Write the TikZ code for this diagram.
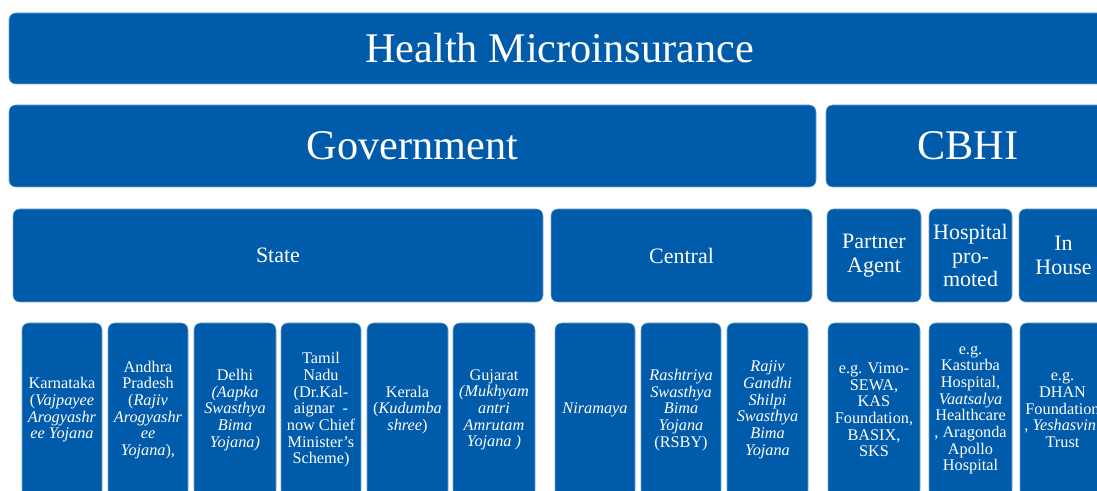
\documentclass[tikz,border=0pt]{standalone}
\usepackage{fontspec}
\setmainfont{Liberation Serif}
\usetikzlibrary{calc}

\definecolor{tileblue}{RGB}{0,91,170}

\begin{document}
\begin{tikzpicture}[x=0.75pt, y=-0.75pt,
    tile/.style={draw=tileblue!55!white, line width=0.4pt, fill=tileblue, rounded corners=5pt},
    label/.style={inner sep=0pt, text=white, align=center},
    titletext/.style={label, font=\fontsize{31.7}{36}\selectfont},
    grouptext/.style={label, font=\fontsize{16.5}{17.6}\selectfont},
    schemetext/.style={label, font=\fontsize{12.2}{12.5}\selectfont}]

    % #1 = estilo del texto, #2 = nombre, #3/#4 = esquina superior izquierda, #5/#6 = esquina inferior derecha, #7 = texto
    \newcommand{\tile}[7]{%
        \path[tile] (#3,#4) rectangle (#5,#6);
        \node[#1] (#2) at ($(#3,#4)!0.5!(#5,#6)$) {#7};}

    \useasboundingbox (0,0) rectangle (1097,491);
    \clip (0,0) rectangle (1097,491);

    % nivel 1
    \tile{titletext}{health}{9}{13}{1110}{84}{Health Microinsurance}

    % nivel 2
    \tile{titletext}{gov}{9}{105}{816}{187}{Government}
    \tile{titletext}{cbhi}{826}{105}{1110}{187}{CBHI}

    % nivel 3
    \tile{grouptext}{state}{13}{209}{543}{302}{State}
    \tile{grouptext}{central}{551}{209}{812}{302}{Central}
    \tile{grouptext}{partner}{827}{209}{921}{302}{Partner\\Agent}
    \tile{grouptext}{hospital}{929}{209}{1012}{302}{Hospital\\pro-\\moted}
    \tile{grouptext}{inhouse}{1019}{209}{1108}{302}{In\\House}

    % nivel 4
    \tile{schemetext}{karnataka}{22}{323}{102}{497}{Karnataka\\(\textit{Vajpayee}\\\textit{Arogyashr}\\\textit{ee Yojana}}
    \tile{schemetext}{andhra}{108}{323}{188}{497}{Andhra\\Pradesh\\(\textit{Rajiv}\\\textit{Arogyashr}\\\textit{ee}\\\textit{Yojana}),}
    \tile{schemetext}{delhi}{194}{323}{276}{497}{Delhi\\\textit{(Aapka}\\\textit{Swasthya}\\\textit{Bima}\\\textit{Yojana)}}
    \tile{schemetext}{tamil}{281}{323}{361}{497}{Tamil\\Nadu\\(Dr.Kal-\\aignar\ \ -\\now Chief\\Minister’s\\Scheme)}
    \tile{schemetext}{kerala}{367}{323}{448}{497}{Kerala\\(\textit{Kudumba}\\\textit{shree})}
    \tile{schemetext}{gujarat}{453}{323}{535}{497}{Gujarat\\\textit{(Mukhyam}\\\textit{antri}\\\textit{Amrutam}\\\textit{Yojana )}}
    \tile{schemetext}{niramaya}{555}{323}{635}{497}{\textit{Niramaya}}
    \tile{schemetext}{rsby}{641}{323}{721}{497}{\textit{Rashtriya}\\\textit{Swasthya}\\\textit{Bima}\\\textit{Yojana}\\(RSBY)}
    \tile{schemetext}{rgssby}{727}{323}{808}{497}{\textit{Rajiv}\\\textit{Gandhi}\\\textit{Shilpi}\\\textit{Swasthya}\\\textit{Bima}\\\textit{Yojana}}
    \tile{schemetext}{vimo}{828}{323}{920}{497}{e.g. Vimo-\\SEWA,\\KAS\\Foundation,\\BASIX,\\SKS}
    \tile{schemetext}{kasturba}{929}{323}{1012}{497}{e.g.\\Kasturba\\Hospital,\\\textit{Vaatsalya}\\Healthcare\\, Aragonda\\Apollo\\Hospital}
    \tile{schemetext}{dhan}{1020}{323}{1105}{497}{e.g.\\DHAN\\Foundation\\, \textit{Yeshasvini}\\Trust}

\end{tikzpicture}
\end{document}
